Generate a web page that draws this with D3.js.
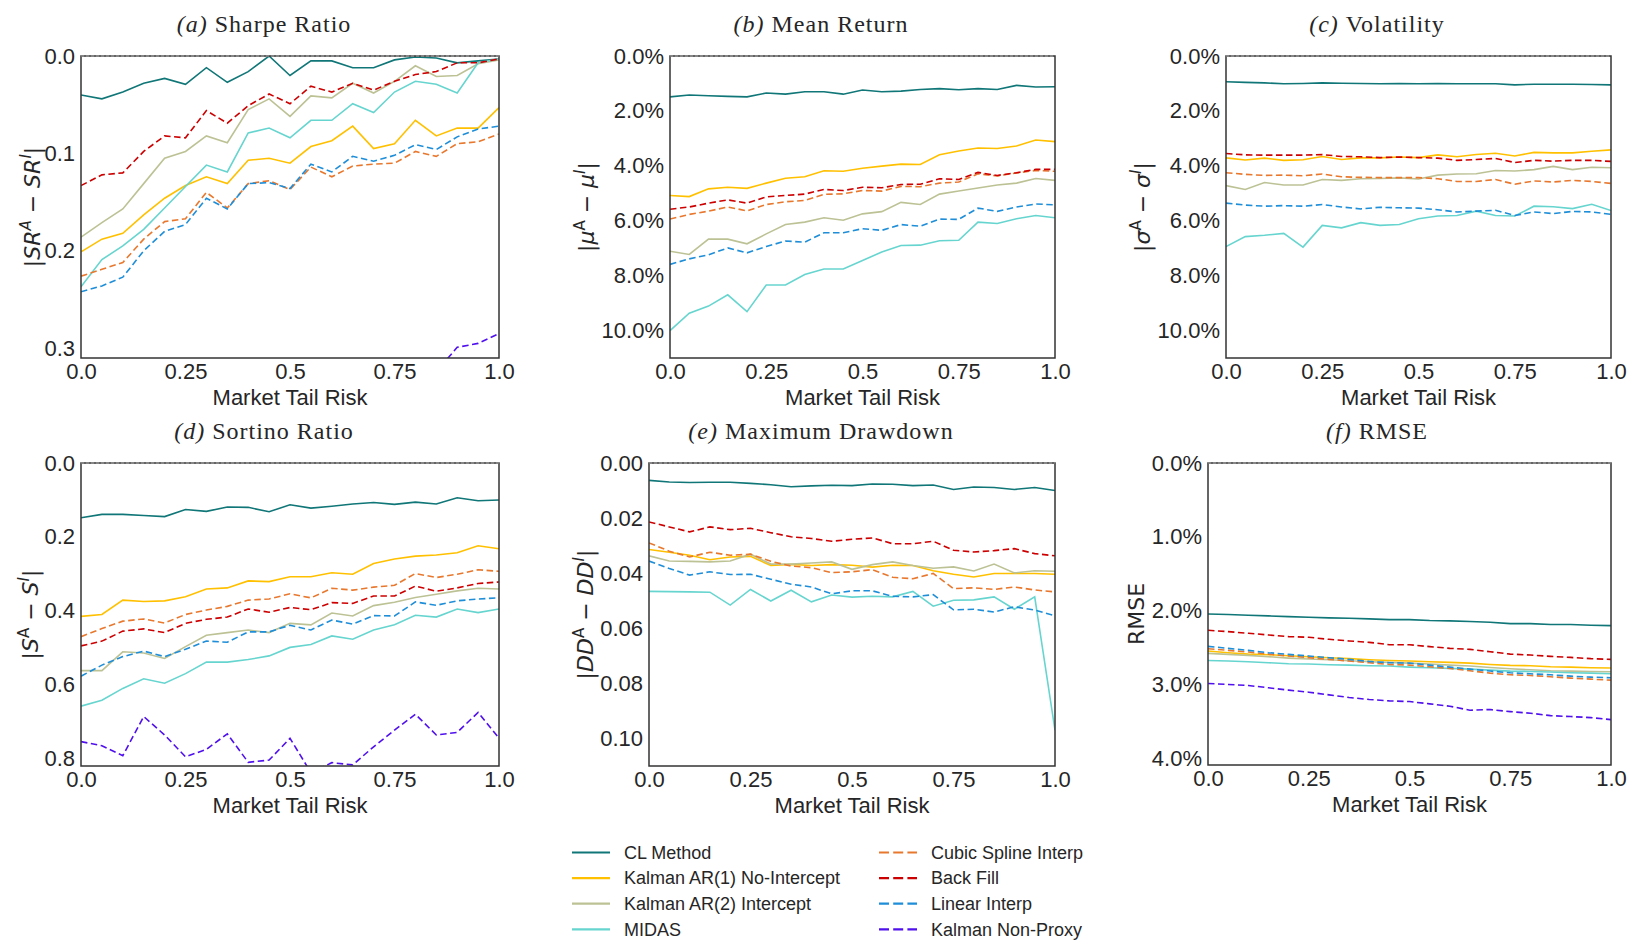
<!DOCTYPE html>
<html>
<head>
<meta charset="utf-8">
<script src="https://cdn.jsdelivr.net/npm/d3@7"></script>
<style>
body { margin: 0; background: #fff; }
svg { display: block; }
</style>
</head>
<body>
<svg id="chart"></svg>
<script>
// x values (market tail risk)
var tailRisk = [0, 0.05, 0.1, 0.15, 0.2, 0.25, 0.3, 0.35, 0.4, 0.45, 0.5, 0.55, 0.6, 0.65, 0.7, 0.75, 0.8, 0.85, 0.9, 0.95, 1.0];
var xTickVals = [0, 0.25, 0.5, 0.75, 1.0];
var xTickLabels = ["0.0", "0.25", "0.5", "0.75", "1.0"];

var methods = ["CL Method", "Kalman AR(1) No-Intercept", "Kalman AR(2) Intercept", "MIDAS",
               "Cubic Spline Interp", "Back Fill", "Linear Interp", "Kalman Non-Proxy"];
var colors = ["#107677", "#ffc000", "#bdc295", "#67d5cf", "#e8782e", "#cc0000", "#1f8ed8", "#5010ee"];
var dashed = [false, false, false, false, true, true, true, true];

// (a) Sharpe ratio, rows follow methods order
var sharpe = [
  [0.040,0.044,0.037,0.028,0.023,0.029,0.012,0.027,0.016,0.000,0.020,0.005,0.005,0.012,0.012,0.004,0.001,0.002,0.007,0.005,0.003],
  [0.201,0.188,0.182,0.163,0.146,0.133,0.124,0.131,0.107,0.105,0.110,0.093,0.087,0.072,0.095,0.090,0.066,0.082,0.074,0.074,0.053],
  [0.186,0.171,0.157,0.131,0.105,0.098,0.082,0.089,0.055,0.044,0.062,0.041,0.043,0.028,0.038,0.026,0.010,0.021,0.020,0.008,0.004],
  [0.237,0.209,0.195,0.178,0.156,0.134,0.112,0.119,0.079,0.074,0.084,0.066,0.066,0.049,0.058,0.037,0.026,0.029,0.038,0.007,0.003],
  [0.226,0.219,0.212,0.188,0.170,0.167,0.140,0.156,0.131,0.128,0.137,0.114,0.124,0.113,0.111,0.110,0.098,0.103,0.090,0.088,0.080],
  [0.133,0.122,0.120,0.098,0.082,0.084,0.056,0.069,0.051,0.039,0.049,0.031,0.037,0.028,0.035,0.026,0.019,0.016,0.007,0.007,0.003],
  [0.242,0.236,0.227,0.200,0.180,0.173,0.146,0.157,0.131,0.130,0.136,0.111,0.119,0.103,0.108,0.102,0.091,0.096,0.083,0.075,0.072],
  [0.41,0.40,0.42,0.39,0.38,0.40,0.37,0.38,0.36,0.35,0.37,0.35,0.34,0.36,0.34,0.33,0.33,0.324,0.299,0.295,0.285]
];

// (b) mean return, in %
var meanRet = [
  [1.49,1.42,1.45,1.47,1.49,1.35,1.39,1.30,1.30,1.39,1.24,1.30,1.28,1.22,1.19,1.23,1.19,1.22,1.07,1.13,1.12],
  [5.08,5.12,4.84,4.78,4.82,4.63,4.45,4.40,4.18,4.20,4.09,4.01,3.94,3.95,3.60,3.46,3.35,3.37,3.28,3.06,3.12],
  [7.11,7.23,6.67,6.67,6.84,6.48,6.14,6.05,5.89,5.98,5.75,5.67,5.33,5.41,5.03,4.92,4.81,4.70,4.63,4.46,4.53],
  [10.0,9.37,9.11,8.70,9.31,8.34,8.34,7.96,7.76,7.76,7.45,7.14,6.90,6.89,6.73,6.71,6.05,6.10,5.93,5.81,5.89],
  [5.94,5.77,5.65,5.50,5.64,5.41,5.31,5.26,5.04,5.02,4.90,4.92,4.75,4.76,4.63,4.59,4.29,4.37,4.26,4.17,4.20],
  [5.58,5.50,5.36,5.24,5.36,5.13,5.08,5.03,4.86,4.90,4.78,4.80,4.68,4.67,4.47,4.50,4.24,4.35,4.25,4.13,4.13],
  [7.59,7.39,7.24,6.99,7.17,6.94,6.74,6.78,6.44,6.44,6.29,6.35,6.14,6.20,5.94,5.95,5.54,5.66,5.50,5.39,5.42],
  null
];

// (c) volatility, in %
var volatility = [
  [0.94,0.96,0.98,1.01,1.00,0.98,0.99,1.00,1.01,1.00,1.01,1.00,1.01,1.01,1.01,1.05,1.03,1.03,1.03,1.04,1.05],
  [3.71,3.79,3.72,3.80,3.78,3.66,3.77,3.71,3.71,3.68,3.70,3.60,3.67,3.59,3.54,3.64,3.51,3.53,3.53,3.47,3.42],
  [4.72,4.86,4.61,4.70,4.70,4.50,4.53,4.47,4.46,4.44,4.48,4.34,4.30,4.29,4.17,4.19,4.14,4.02,4.14,4.05,4.07],
  [6.94,6.58,6.53,6.46,6.96,6.17,6.26,6.07,6.17,6.14,5.93,5.83,5.81,5.65,5.81,5.83,5.47,5.49,5.56,5.40,5.63],
  [4.25,4.31,4.35,4.34,4.36,4.30,4.40,4.42,4.43,4.43,4.43,4.47,4.57,4.57,4.50,4.67,4.55,4.59,4.53,4.57,4.64],
  [3.55,3.60,3.61,3.61,3.61,3.59,3.66,3.67,3.70,3.68,3.70,3.72,3.80,3.77,3.73,3.88,3.80,3.83,3.80,3.80,3.84],
  [5.36,5.43,5.47,5.45,5.47,5.41,5.50,5.57,5.51,5.53,5.54,5.60,5.68,5.65,5.62,5.81,5.68,5.74,5.66,5.68,5.77],
  null
];

// (d) sortino ratio
var sortino = [
  [0.148,0.139,0.139,0.142,0.145,0.126,0.131,0.119,0.120,0.132,0.113,0.122,0.117,0.111,0.107,0.112,0.106,0.111,0.094,0.102,0.100],
  [0.415,0.410,0.371,0.375,0.373,0.362,0.341,0.338,0.319,0.321,0.308,0.308,0.297,0.301,0.272,0.260,0.252,0.249,0.243,0.224,0.232],
  [0.562,0.562,0.511,0.514,0.529,0.497,0.466,0.459,0.452,0.459,0.434,0.438,0.406,0.414,0.386,0.377,0.364,0.355,0.346,0.339,0.341],
  [0.658,0.642,0.610,0.584,0.596,0.570,0.539,0.539,0.532,0.522,0.499,0.491,0.468,0.477,0.452,0.438,0.412,0.417,0.395,0.405,0.395],
  [0.470,0.448,0.428,0.422,0.433,0.410,0.398,0.388,0.371,0.368,0.354,0.365,0.339,0.344,0.336,0.331,0.299,0.310,0.301,0.289,0.293],
  [0.495,0.482,0.455,0.449,0.459,0.434,0.423,0.417,0.395,0.404,0.391,0.397,0.378,0.380,0.360,0.360,0.333,0.347,0.338,0.326,0.322],
  [0.577,0.547,0.524,0.509,0.524,0.504,0.482,0.485,0.457,0.457,0.439,0.452,0.425,0.436,0.413,0.414,0.376,0.385,0.373,0.368,0.365],
  [0.754,0.765,0.792,0.686,0.736,0.795,0.775,0.733,0.810,0.804,0.745,0.838,0.811,0.817,0.768,0.723,0.680,0.736,0.729,0.675,0.745]
];

// (e) maximum drawdown
var drawdown = [
  [0.0063,0.0069,0.0071,0.0070,0.0070,0.0074,0.0079,0.0086,0.0083,0.0081,0.0082,0.0076,0.0077,0.0082,0.0080,0.0096,0.0087,0.0089,0.0096,0.0089,0.0100],
  [0.0314,0.0324,0.0335,0.0351,0.0341,0.0339,0.0372,0.0368,0.0372,0.0369,0.0371,0.0378,0.0371,0.0372,0.0391,0.0404,0.0414,0.0401,0.0401,0.0401,0.0404],
  [0.0337,0.0356,0.0357,0.0359,0.0356,0.0331,0.0367,0.0367,0.0363,0.0359,0.0386,0.0369,0.0359,0.0372,0.0382,0.0377,0.0392,0.0367,0.0399,0.0391,0.0393],
  [0.0466,0.0467,0.0468,0.0469,0.0516,0.0459,0.0501,0.0462,0.0504,0.0479,0.0487,0.0484,0.0486,0.0466,0.0520,0.0498,0.0497,0.0486,0.0531,0.0486,0.0970],
  [0.0290,0.0320,0.0341,0.0324,0.0335,0.0331,0.0357,0.0374,0.0380,0.0398,0.0395,0.0387,0.0415,0.0420,0.0401,0.0456,0.0453,0.0459,0.0450,0.0461,0.0468],
  [0.0214,0.0232,0.0250,0.0232,0.0242,0.0237,0.0253,0.0268,0.0274,0.0284,0.0277,0.0272,0.0293,0.0293,0.0284,0.0317,0.0323,0.0318,0.0311,0.0329,0.0337],
  [0.0356,0.0383,0.0407,0.0395,0.0405,0.0404,0.0422,0.0440,0.0450,0.0475,0.0464,0.0464,0.0484,0.0486,0.0478,0.0533,0.0531,0.0541,0.0522,0.0534,0.0555],
  null
];

// (f) RMSE, in %
var rmse = [
  [2.044,2.052,2.061,2.071,2.080,2.089,2.098,2.102,2.111,2.121,2.121,2.134,2.138,2.147,2.157,2.175,2.175,2.188,2.188,2.198,2.202],
  [2.547,2.569,2.588,2.596,2.610,2.623,2.637,2.650,2.664,2.674,2.682,2.691,2.700,2.710,2.728,2.741,2.745,2.760,2.764,2.773,2.777],
  [2.578,2.592,2.605,2.623,2.642,2.655,2.664,2.678,2.691,2.700,2.710,2.723,2.737,2.750,2.769,2.786,2.801,2.814,2.818,2.823,2.827],
  [2.674,2.682,2.691,2.705,2.719,2.723,2.732,2.737,2.745,2.750,2.764,2.773,2.782,2.791,2.805,2.818,2.823,2.831,2.841,2.846,2.855],
  [2.515,2.537,2.560,2.588,2.614,2.637,2.659,2.682,2.705,2.728,2.737,2.760,2.782,2.814,2.846,2.868,2.877,2.895,2.913,2.927,2.941],
  [2.265,2.284,2.306,2.329,2.351,2.360,2.388,2.410,2.429,2.461,2.461,2.487,2.510,2.524,2.556,2.588,2.601,2.619,2.633,2.650,2.659],
  [2.483,2.510,2.537,2.569,2.592,2.614,2.637,2.659,2.687,2.705,2.710,2.737,2.764,2.791,2.818,2.841,2.855,2.868,2.887,2.900,2.909],
  [2.986,2.999,3.013,3.044,3.076,3.104,3.140,3.176,3.203,3.222,3.231,3.262,3.294,3.348,3.339,3.367,3.389,3.421,3.434,3.448,3.475]
];

var panelTitles = [["(a)", "Sharpe Ratio"], ["(b)", "Mean Return"], ["(c)", "Volatility"],
                   ["(d)", "Sortino Ratio"], ["(e)", "Maximum Drawdown"], ["(f)", "RMSE"]];
var panelData = [sharpe, meanRet, volatility, sortino, drawdown, rmse];
var yMax = [0.31, 11, 11, 0.82, 0.11, 4.09];
var yTicks = [[0, 0.1, 0.2, 0.3], [0, 2, 4, 6, 8, 10], [0, 2, 4, 6, 8, 10],
              [0, 0.2, 0.4, 0.6, 0.8], [0, 0.02, 0.04, 0.06, 0.08, 0.10], [0, 1, 2, 3, 4]];
var pct = function(d){ return d.toFixed(1) + "%"; };
var yFormats = [d3.format(".1f"), pct, pct, d3.format(".1f"), d3.format(".2f"), pct];
// y label pieces: [text, italic, superscript]
var yLabels = [
  [["|"], ["SR", 1], ["A", 1, 1], [" \u2212 "], ["SR", 1], ["I", 1, 1], ["|"]],
  [["|"], ["\u03bc", 1], ["A", 0, 1], [" \u2212 "], ["\u03bc", 1], ["I", 1, 1], ["|"]],
  [["|"], ["\u03c3", 1], ["A", 0, 1], [" \u2212 "], ["\u03c3", 1], ["I", 1, 1], ["|"]],
  [["|"], ["S", 1], ["A", 0, 1], [" \u2212 "], ["S", 1], ["I", 1, 1], ["|"]],
  [["|"], ["DD", 1], ["A", 0, 1], [" \u2212 "], ["DD", 1], ["I", 1, 1], ["|"]],
  [["RMSE"]]
];

// layout (px)
var boxes = [
  {l: 81, r: 499, t: 56, b: 358, yl: 32, tc: 264},
  {l: 670, r: 1055, t: 56, b: 358, yl: 586, tc: 821},
  {l: 1226, r: 1611, t: 56, b: 358, yl: 1142, tc: 1377},
  {l: 81, r: 499, t: 463, b: 766, yl: 30, tc: 264},
  {l: 649, r: 1055, t: 463, b: 766, yl: 585, tc: 821},
  {l: 1208, r: 1611, t: 463, b: 765, yl: 1136, tc: 1377}
];

var textColor = "#262626";
var svg = d3.select("#chart").attr("width", 1631).attr("height", 941);
svg.append("rect").attr("width", 1631).attr("height", 941).attr("fill", "#fff");

var drawPanel = function(i)
{
    var box = boxes[i];
    var x = d3.scaleLinear().domain([0, 1]).range([box.l, box.r]);
    var y = d3.scaleLinear().domain([0, yMax[i]]).range([box.t, box.b]);
    var g = svg.append("g");

    g.append("clipPath").attr("id", "clip" + i)
        .append("rect").attr("x", box.l).attr("y", box.t)
        .attr("width", box.r - box.l).attr("height", box.b - box.t);

    // title
    var title = g.append("text").attr("x", box.tc).attr("y", box.t - 24)
        .attr("text-anchor", "middle")
        .style("font-family", "'Liberation Serif', serif").style("font-size", "24px")
        .style("letter-spacing", "1px").attr("fill", textColor);
    title.append("tspan").style("font-style", "italic").text(panelTitles[i][0] + " ");
    title.append("tspan").text(panelTitles[i][1]);

    // axes
    var xAxis = d3.axisBottom(x).tickValues(xTickVals).tickSize(0).tickPadding(5)
        .tickFormat(function(d, k){ return xTickLabels[k]; });
    var yAxis = d3.axisLeft(y).tickValues(yTicks[i]).tickSize(0).tickPadding(6)
        .tickFormat(yFormats[i]);
    var gx = g.append("g").attr("transform", "translate(0," + box.b + ")").call(xAxis);
    var gy = g.append("g").attr("transform", "translate(" + box.l + ",0)").call(yAxis);
    [gx, gy].forEach(function(a){
        a.select(".domain").remove();
        a.selectAll("text").attr("fill", textColor)
            .style("font-family", "'Liberation Sans', Arial, sans-serif").style("font-size", "22px");
    });

    // x label
    g.append("text").attr("x", (box.l + box.r) / 2).attr("y", box.b + 47)
        .attr("text-anchor", "middle").attr("fill", textColor)
        .style("font-family", "'Liberation Sans', Arial, sans-serif").style("font-size", "22px")
        .text("Market Tail Risk");

    // y label
    var yl = g.append("text")
        .attr("transform", "translate(" + box.yl + "," + ((box.t + box.b) / 2) + ") rotate(-90)")
        .attr("text-anchor", "middle").attr("dy", "0.35em").attr("fill", textColor)
        .style("font-family", "'DejaVu Sans', sans-serif").style("font-size", "22px");
    var up = false;
    yLabels[i].forEach(function(p){
        var t = yl.append("tspan").text(p[0]);
        if (p[1]) t.style("font-style", "italic");
        if (p[2]) { t.style("font-size", "15px").attr("dy", "-9"); up = true; }
        else if (up) { t.attr("dy", "9"); up = false; }
    });

    var line = d3.line().x(function(d, k){ return x(tailRisk[k]); }).y(function(d){ return y(d); });
    var plot = g.append("g").attr("clip-path", "url(#clip" + i + ")");
    panelData[i].forEach(function(series, m){
        if (!series) return;
        plot.append("path").datum(series).attr("d", line)
            .attr("fill", "none").attr("stroke", colors[m]).attr("stroke-width", 1.6)
            .attr("stroke-dasharray", dashed[m] ? "6.5,3.5" : null);
    });

    // frame and zero line
    g.append("rect").attr("x", box.l).attr("y", box.t)
        .attr("width", box.r - box.l).attr("height", box.b - box.t)
        .attr("fill", "none").attr("stroke", "#333").attr("stroke-width", 1.5);
    g.append("line").attr("x1", box.l).attr("x2", box.r).attr("y1", y(0)).attr("y2", y(0))
        .attr("stroke", "#bbb").attr("stroke-width", 0.8).attr("stroke-dasharray", "3,2");
};

for (var i = 0; i < 6; i++) drawPanel(i);

// legend
var legend = svg.append("g");
methods.forEach(function(name, m){
    var col = Math.floor(m / 4), row = m % 4;
    var lx = col === 0 ? 572 : 879;
    var ly = 852.5 + row * 25.6;
    legend.append("line").attr("x1", lx).attr("x2", lx + 38).attr("y1", ly).attr("y2", ly)
        .attr("stroke", colors[m]).attr("stroke-width", 2.2)
        .attr("stroke-dasharray", dashed[m] ? "10,4.2" : null);
    legend.append("text").attr("x", lx + 52).attr("y", ly).attr("dy", "0.35em")
        .attr("fill", textColor)
        .style("font-family", "'Liberation Sans', Arial, sans-serif").style("font-size", "18px")
        .text(name);
});
</script>
</body>
</html>
